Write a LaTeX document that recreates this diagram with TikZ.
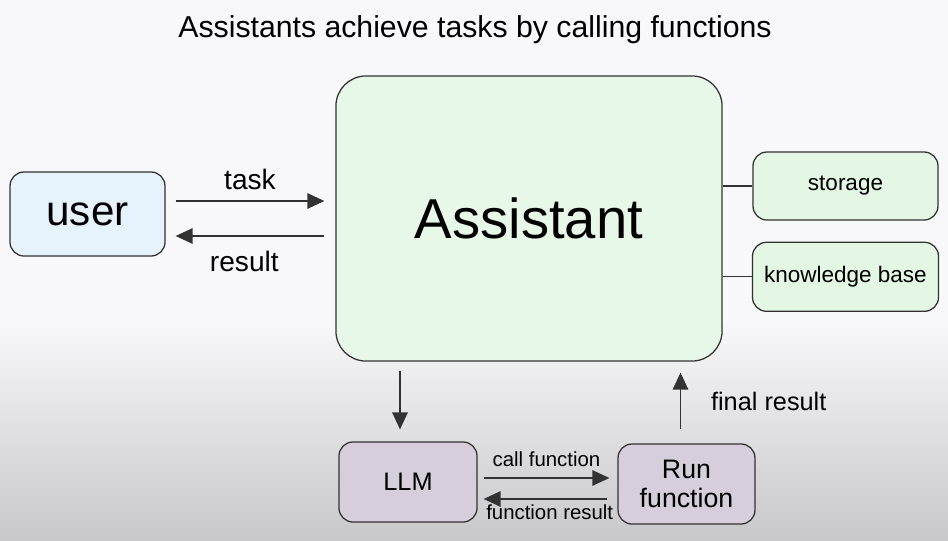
\documentclass[tikz,border=0pt]{standalone}
\usepackage{fontspec}
\setmainfont{Liberation Sans}
\definecolor{bgTop}{RGB}{248,248,250}
\definecolor{bgBottom}{RGB}{200,200,202}
\definecolor{lineGray}{RGB}{50,50,50}
\definecolor{userBlue}{RGB}{230,243,253}
\definecolor{assistGreen}{RGB}{232,248,232}
\definecolor{storeGreen}{RGB}{228,246,228}
\definecolor{llmPurple}{RGB}{214,206,218}
\usetikzlibrary{arrows.meta,positioning,calc}

\begin{document}
\begin{tikzpicture}[
  x=0.025cm, y=-0.025cm,
  box/.style={draw=lineGray, line width=0.9pt, rounded corners=0.35cm,
              align=center, text=black},
  arrow/.style={-{Triangle[length=12pt,width=11pt]}, line width=0.8pt, lineGray},
  link/.style={line width=0.8pt, lineGray},
  lbl/.style={font=\fontsize{20}{24}\selectfont, text=black},
  small/.style={font=\fontsize{14.5}{17}\selectfont, text=black}
]
  % background
  \useasboundingbox (0,0) rectangle (948,540);
  \fill[bgTop] (0,0) rectangle (948,540);
  \shade[top color=bgTop, bottom color=bgBottom] (0,320) rectangle (948,540);

  \node[font=\fontsize{21.5}{26}\selectfont] (title) at (475,30)
    {Assistants achieve tasks by calling functions};

  % boxes
  \node[box, fill=assistGreen, rounded corners=0.75cm, minimum width=9.65cm,
        minimum height=7.125cm, font=\fontsize{40}{44}\selectfont] (assistant) at (529,218.5) {Assistant};
  \node[box, fill=userBlue, minimum width=3.875cm, minimum height=2.1cm,
        font=\fontsize{30}{34}\selectfont] (user) at (87.5,214) {user};
  \node[box, fill=storeGreen, minimum width=4.625cm, minimum height=1.7cm,
        font=\fontsize{16}{19}\selectfont] (storage) at (845.5,186) {storage};
  \node[box, fill=storeGreen, minimum width=4.65cm, minimum height=1.725cm,
        font=\fontsize{16}{19}\selectfont, below=0.525cm of storage.south, anchor=north] (kb) {knowledge base};
  \node[box, fill=llmPurple, minimum width=3.45cm, minimum height=2cm,
        font=\fontsize{18}{22}\selectfont] (llm) at (408,482) {LLM};
  \node[box, fill=llmPurple, minimum width=3.425cm, minimum height=2cm,
        font=\fontsize{19}{21}\selectfont] (run) at (686.5,484) {Run\\function};

  % user <-> assistant
  \draw[arrow] ($(user.east)+(10,-13)$) -- ($(user.east -| assistant.west)+(-11,-13)$)
    node[lbl, midway, above=4pt] (tasklbl) {task};
  \draw[arrow] ($(user.east -| assistant.west)+(-11,22)$) -- ($(user.east)+(10,22)$)
    node[lbl, midway, below=7pt, xshift=-4pt] (resultlbl) {result};

  % assistant -- side boxes
  \draw[link] (storage.west) -- (storage.west -| assistant.east);
  \draw[link] (kb.west) -- (kb.west -| assistant.east);

  % assistant -> llm, run -> assistant
  \draw[arrow] ($(assistant.south -| llm.north)+(-8,9)$) -- ($(llm.north)+(-8,-12)$);
  \draw[arrow] ($(run.north)+(-6,-14)$) -- ($(assistant.south -| run.north)+(-6,11)$)
    node[lbl, font=\fontsize{18}{21}\selectfont, midway, right=18pt] (finallbl) {final result};

  % llm <-> run
  \draw[arrow] ($(llm.east)+(6,-4)$) -- ($(llm.east -| run.west)+(-8,-4)$)
    node[small, midway, above=4pt] (calllbl) {call function};
  \draw[arrow] ($(llm.east -| run.west)+(-10,17)$) -- ($(llm.east)+(6,17)$)
    node[small, midway, below=0pt, xshift=3pt] (fnresultlbl) {function result};
\end{tikzpicture}
\end{document}
